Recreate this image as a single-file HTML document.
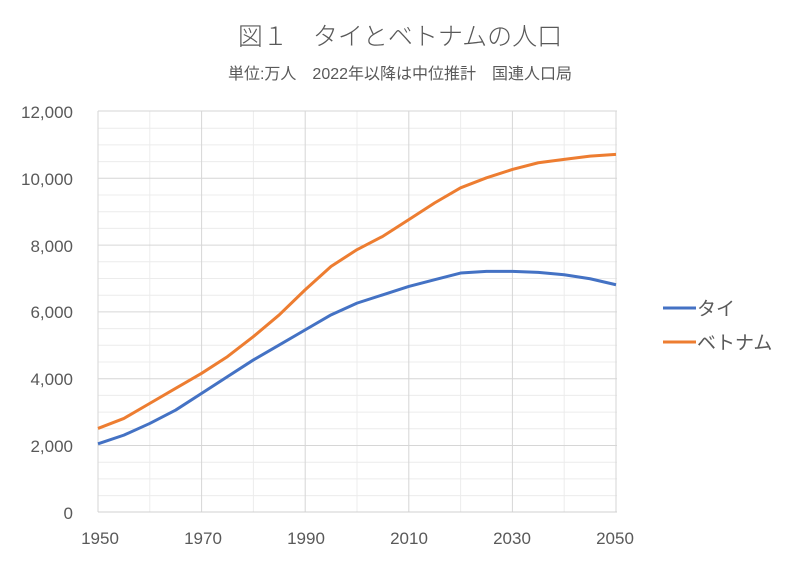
<!DOCTYPE html>
<html><head><meta charset="utf-8"><style>
body{margin:0;background:#fff;}
text{font-family:"Liberation Sans","Noto Sans CJK JP",sans-serif;fill:#595959;}
</style></head><body>
<svg width="800" height="564" viewBox="0 0 800 564" xmlns="http://www.w3.org/2000/svg">
<rect width="800" height="564" fill="#fff"/>
<text x="400" y="45" font-size="25" font-weight="300" text-anchor="middle">図１　タイとベトナムの人口</text>
<text x="400" y="79" font-size="16" text-anchor="middle">単位:万人　2022年以降は中位推計　国連人口局</text>
<g stroke="#ececec" stroke-width="1">
<line x1="98" x2="617" y1="128.2" y2="128.2"/><line x1="98" x2="617" y1="144.9" y2="144.9"/><line x1="98" x2="617" y1="161.6" y2="161.6"/>
<line x1="98" x2="617" y1="195" y2="195"/><line x1="98" x2="617" y1="211.7" y2="211.7"/><line x1="98" x2="617" y1="228.4" y2="228.4"/>
<line x1="98" x2="617" y1="261.8" y2="261.8"/><line x1="98" x2="617" y1="278.5" y2="278.5"/><line x1="98" x2="617" y1="295.2" y2="295.2"/>
<line x1="98" x2="617" y1="328.6" y2="328.6"/><line x1="98" x2="617" y1="345.3" y2="345.3"/><line x1="98" x2="617" y1="362" y2="362"/>
<line x1="98" x2="617" y1="395.4" y2="395.4"/><line x1="98" x2="617" y1="412.1" y2="412.1"/><line x1="98" x2="617" y1="428.8" y2="428.8"/>
<line x1="98" x2="617" y1="462.2" y2="462.2"/><line x1="98" x2="617" y1="478.9" y2="478.9"/><line x1="98" x2="617" y1="495.6" y2="495.6"/>
<line x1="149.8" x2="149.8" y1="111" y2="512"/><line x1="253.4" x2="253.4" y1="111" y2="512"/><line x1="357" x2="357" y1="111" y2="512"/><line x1="460.6" x2="460.6" y1="111" y2="512"/><line x1="564.2" x2="564.2" y1="111" y2="512"/>
</g>
<g stroke="#d6d6d6" stroke-width="1">
<line x1="98" x2="617" y1="111" y2="111"/><line x1="98" x2="617" y1="178.3" y2="178.3"/><line x1="98" x2="617" y1="245.1" y2="245.1"/><line x1="98" x2="617" y1="311.9" y2="311.9"/><line x1="98" x2="617" y1="378.7" y2="378.7"/><line x1="98" x2="617" y1="445.5" y2="445.5"/>
<line x1="98" x2="98" y1="111" y2="512"/><line x1="201.6" x2="201.6" y1="111" y2="512"/><line x1="305.2" x2="305.2" y1="111" y2="512"/><line x1="408.8" x2="408.8" y1="111" y2="512"/><line x1="512.4" x2="512.4" y1="111" y2="512"/><line x1="616" x2="616" y1="111" y2="512"/>
</g>
<line x1="98" x2="617" y1="512" y2="512" stroke="#d0d0d0"/>
<g transform="translate(98,512) scale(5.18,-0.03342) translate(-1950,0)" fill="none" stroke-width="3" stroke-linejoin="round">
<polyline vector-effect="non-scaling-stroke" stroke="#4472c4" points="1950,2040 1955,2300 1960,2650 1965,3050 1970,3550 1975,4050 1980,4550 1985,5000 1990,5450 1995,5900 2000,6250 2005,6500 2010,6750 2015,6950 2020,7150 2025,7200 2030,7200 2035,7170 2040,7100 2045,6980 2050,6800"/>
<polyline vector-effect="non-scaling-stroke" stroke="#ed7d31" points="1950,2500 1955,2800 1960,3250 1965,3700 1970,4150 1975,4650 1980,5250 1985,5900 1990,6650 1995,7350 2000,7850 2005,8250 2010,8750 2015,9250 2020,9700 2025,10000 2030,10250 2035,10450 2040,10550 2045,10650 2050,10700"/>
</g>
<g font-size="17" text-anchor="end">
<text x="73" y="118">12,000</text><text x="73" y="185">10,000</text><text x="73" y="252">8,000</text><text x="73" y="318">6,000</text><text x="73" y="385">4,000</text><text x="73" y="452">2,000</text><text x="73" y="519">0</text>
</g>
<g font-size="17" text-anchor="middle">
<text x="100" y="544">1950</text><text x="203" y="544">1970</text><text x="306" y="544">1990</text><text x="409" y="544">2010</text><text x="512" y="544">2030</text><text x="615" y="544">2050</text>
</g>
<line x1="663" x2="696" y1="308" y2="308" stroke="#4472c4" stroke-width="3"/>
<text x="697" y="315" font-size="19">タイ</text>
<line x1="663" x2="696" y1="342" y2="342" stroke="#ed7d31" stroke-width="3"/>
<text x="697" y="349" font-size="19">ベトナム</text>
</svg>
</body></html>
